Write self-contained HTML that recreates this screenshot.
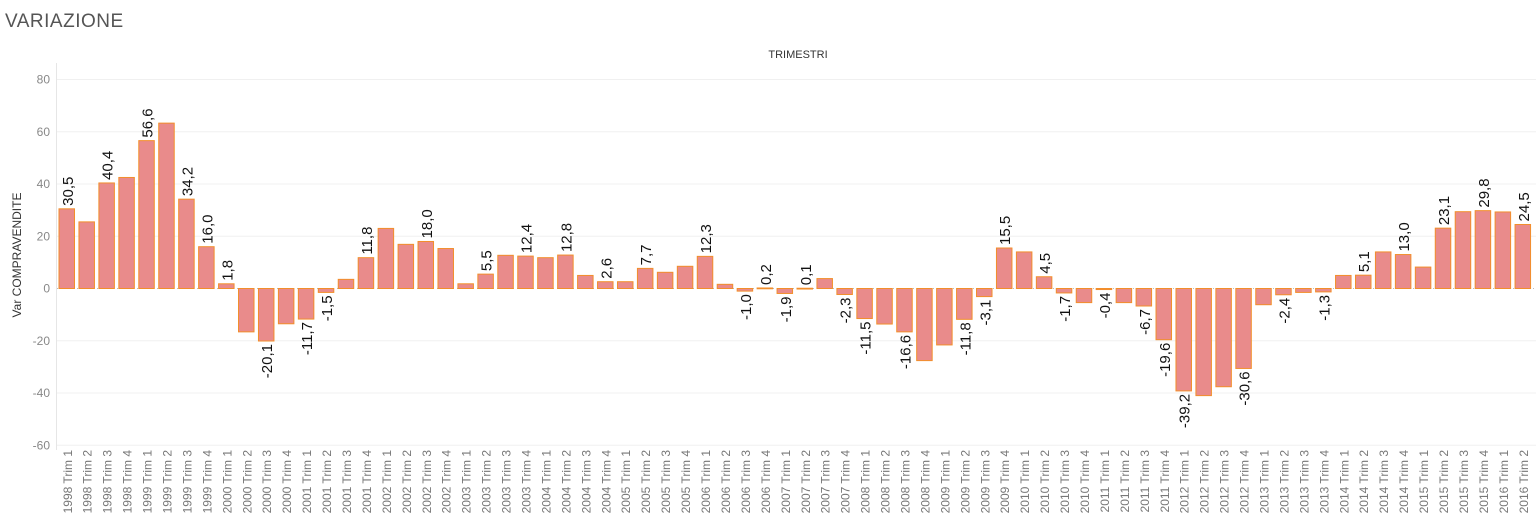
<!DOCTYPE html>
<html><head><meta charset="utf-8"><style>
body{margin:0;background:#fff;font-family:"Liberation Sans",sans-serif;}
svg{display:block}
</style></head><body>
<svg id="chart" width="1536" height="527" viewBox="0 0 1536 527" xmlns="http://www.w3.org/2000/svg" font-family="Liberation Sans, sans-serif">
<text x="5" y="27" font-size="19" fill="#555" letter-spacing="0.5">VARIAZIONE</text>
<text x="798" y="58" font-size="11" fill="#333" text-anchor="middle">TRIMESTRI</text>
<text transform="translate(21,255) rotate(-90)" font-size="12" fill="#333" text-anchor="middle">Var COMPRAVENDITE</text>
<g id="grid"></g><g id="bars"></g><g id="labels"></g><g id="xticks"></g>
</svg>
<script>
const years = [1998,1999,2000,2001,2002,2003,2004,2005,2006,2007,2008,2009,2010,2011,2012,2013,2014,2015,2016];
const quarters = ["Trim 1","Trim 2","Trim 3","Trim 4"];
const values = [
30.5,25.5,40.4,42.5, 56.6,63.3,34.2,16.0, 1.8,-16.6,-20.1,-13.5, -11.7,-1.5,3.5,11.8,
23.0,16.9,18.0,15.3, 1.8,5.5,12.7,12.4, 11.8,12.8,5.0,2.6, 2.6,7.7,6.2,8.5,
12.3,1.6,-1.0,0.2, -1.9,0.1,3.8,-2.3, -11.5,-13.6,-16.6,-27.6, -21.6,-11.8,-3.1,15.5,
14.0,4.5,-1.7,-5.4, -0.4,-5.4,-6.7,-19.6, -39.2,-41.0,-37.6,-30.6, -6.2,-2.4,-1.5,-1.3,
5.0,5.1,14.0,13.0, 8.2,23.1,29.4,29.8, 29.3,24.5];
const labeled = [0,2,4,6,7,8,10,12,13,15,18,21,23,25,27,29,32,34,35,36,37,39,40,42,45,46,47,49,50,52,54,55,56,59,61,63,65,67,69,71,73];
const yTicks = [80,60,40,20,0,-20,-40,-60];
const categories = [];
years.forEach(y=>quarters.forEach(q=>categories.push(y+" "+q)));
categories.length = values.length;

const NS="http://www.w3.org/2000/svg";
const y0=288.5, pxPer=209/80;
const yScale=v=>y0-v*pxPer;
const pitch=(1535-59)/values.length, bw=15.5;
const xScale=i=>59+i*pitch;
function mk(tag,attrs,parent,txt){const e=document.createElementNS(NS,tag);for(const k in attrs)e.setAttribute(k,attrs[k]);if(txt!==undefined)e.textContent=txt;document.getElementById(parent).appendChild(e);return e;}

const ax=mk('line',{x1:56.5,x2:56.5,y1:63,y2:450,stroke:'#e6e6e6'},'grid');


yTicks.forEach(t=>{
  const g=mk('line',{x1:57,x2:1536,y1:yScale(t),y2:yScale(t),stroke:t===0?'#bbb':'#f0f0f0','stroke-dasharray':t===0?'1,3':'none'},'grid');
  
  
  const l=mk('text',{x:50,y:yScale(t)+4,'font-size':12,fill:'#888','text-anchor':'end'},'grid',String(t));
  
  
});
values.forEach((v,i)=>{
  const x=xScale(i), top=Math.min(yScale(v),y0), h=Math.abs(yScale(v)-y0);
  const r=mk('rect',{x:x,y:top,width:bw,height:Math.max(h,0.8),fill:'#e98b8b',stroke:'#f28e2b','stroke-width':1},'bars');
  
  
  const cx=x+bw/2+5;
  const t=mk('text',{transform:`translate(${cx},450) rotate(-90)`,'font-size':12,fill:'#777','text-anchor':'end'},'xticks',categories[i].replace(' ',' '));
  
  
});
labeled.forEach(i=>{
  const v=values[i], cx=xScale(i)+bw/2+6;
  const txt=v.toFixed(1).replace('.',',');
  let t;
  if(v>=0) t=mk('text',{transform:`translate(${cx},${yScale(v)-3}) rotate(-90)`,'font-size':15,fill:'#111','text-anchor':'start'},'labels',txt);
  else t=mk('text',{transform:`translate(${cx},${yScale(v)+3}) rotate(-90)`,'font-size':15,fill:'#111','text-anchor':'end'},'labels',txt);
  
  
});
</script>
</body></html>
